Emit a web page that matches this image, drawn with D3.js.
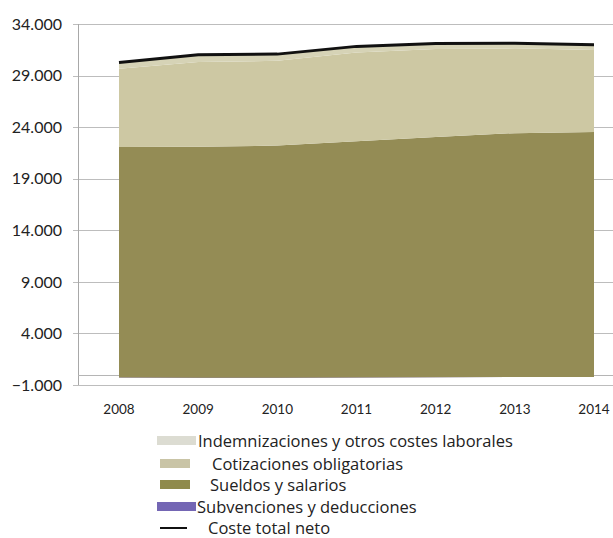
<!DOCTYPE html>
<html>
<head>
<meta charset="utf-8">
<script src="https://cdn.jsdelivr.net/npm/d3@7"></script>
<style>
  html, body { margin: 0; padding: 0; background: #fff; }
  svg { display: block; }
  text { font-family: Lato, "Open Sans", sans-serif; fill: #222; }
  .legend text { font-family: "Open Sans", Lato, sans-serif; }
</style>
</head>
<body>
<svg id="chart" width="613" height="538"></svg>
<script>
// Annual labour cost per worker (euros), 2008-2014
const years = ["2008", "2009", "2010", "2011", "2012", "2013", "2014"];
const subvenciones = [-280, -300, -290, -270, -250, -230, -230];
const sueldos = [22350, 22400, 22500, 22900, 23300, 23650, 23750];
const cotizaciones = [7590, 8210, 8220, 8600, 8520, 8220, 7960];
const indemnizaciones = [600, 700, 650, 600, 550, 500, 500];
const costeTotalNeto = [30260, 31010, 31080, 31830, 32120, 32140, 31980];
const yTicks = [-1000, 4000, 9000, 14000, 19000, 24000, 29000, 34000];

const seriesKeys = ["subvenciones", "sueldos", "cotizaciones", "indemnizaciones"];
const seriesColors = {
  subvenciones: "#7560b0",
  sueldos: "#948c55",
  cotizaciones: "#cdc8a3",
  indemnizaciones: "#d6d3b6"
};

const table = years.map((yr, i) => ({
  year: yr,
  subvenciones: subvenciones[i],
  sueldos: sueldos[i],
  cotizaciones: cotizaciones[i],
  indemnizaciones: indemnizaciones[i],
  total: costeTotalNeto[i]
}));

const svg = d3.select("#chart");

const x = d3.scalePoint().domain(years).range([119, 594]);
const y = d3.scaleLinear().domain([-1000, 34000]).range([385, 24]);

// thousands with a dot separator and three decimals of the thousand unit
const fmtTick = v => d3.format(".3f")(v / 1000);

// horizontal gridlines with short outer tick marks
svg.append("g")
  .selectAll("line")
  .data(yTicks)
  .join("line")
  .attr("x1", 73).attr("x2", 613)
  .attr("y1", d => Math.round(y(d)) + 0.5)
  .attr("y2", d => Math.round(y(d)) + 0.5)
  .attr("stroke", "#bdbdbd")
  .attr("stroke-width", 1);

// y tick labels
svg.append("g")
  .selectAll("text")
  .data(yTicks)
  .join("text")
  .attr("x", 62)
  .attr("y", d => y(d))
  .attr("dy", "0.36em")
  .attr("text-anchor", "end")
  .attr("font-size", 16)
  .text(d => fmtTick(d));

// vertical value axis
svg.append("line")
  .attr("x1", 78.5).attr("x2", 78.5)
  .attr("y1", y(34000)).attr("y2", y(-1000))
  .attr("stroke", "#a8a8a8");

// category axis crossing at zero (behind the areas)
svg.append("line")
  .attr("x1", 78).attr("x2", 613)
  .attr("y1", Math.round(y(0)) + 0.5).attr("y2", Math.round(y(0)) + 0.5)
  .attr("stroke", "#b5b5b5");

// stacked areas
const stack = d3.stack().keys(seriesKeys);
const stacked = stack(table);

const area = d3.area()
  .x(d => x(d.data.year))
  .y0(d => y(d[0]))
  .y1(d => y(d[1]));

svg.append("g")
  .selectAll("path")
  .data(stacked)
  .join("path")
  .attr("d", area)
  .attr("fill", d => seriesColors[d.key]);

// net total cost line
const line = d3.line()
  .x(d => x(d.year))
  .y(d => y(d.total));

svg.append("path")
  .datum(table)
  .attr("d", line)
  .attr("fill", "none")
  .attr("stroke", "#111")
  .attr("stroke-width", 3);

// year labels
svg.append("g")
  .selectAll("text")
  .data(years)
  .join("text")
  .attr("x", d => x(d))
  .attr("y", 409)
  .attr("dy", "0.36em")
  .attr("text-anchor", "middle")
  .attr("font-size", 13.5)
  .text(d => d);

// legend
const legendItems = [
  { label: "Indemnizaciones y otros costes laborales", kind: "rect", color: "#dcdcd2", x0: 157, x1: 196, tx: 198 },
  { label: "Cotizaciones obligatorias", kind: "rect", color: "#c9c4a6", x0: 160, x1: 190, tx: 212 },
  { label: "Sueldos y salarios", kind: "rect", color: "#8f8a4c", x0: 160, x1: 190, tx: 210 },
  { label: "Subvenciones y deducciones", kind: "rect", color: "#7466b4", x0: 157, x1: 196, tx: 197 },
  { label: "Coste total neto", kind: "line", color: "#111", x0: 160, x1: 187, tx: 208 }
];
const legendY = [441, 464, 485, 507, 528];

const lg = svg.append("g")
  .attr("class", "legend")
  .selectAll("g")
  .data(legendItems)
  .join("g")
  .attr("transform", (d, i) => `translate(0,${legendY[i]})`);

lg.filter(d => d.kind === "rect")
  .append("rect")
  .attr("x", d => d.x0)
  .attr("y", -5)
  .attr("width", d => d.x1 - d.x0)
  .attr("height", 9)
  .attr("fill", d => d.color);

lg.filter(d => d.kind === "line")
  .append("line")
  .attr("x1", d => d.x0).attr("x2", d => d.x1)
  .attr("y1", 0).attr("y2", 0)
  .attr("stroke", d => d.color)
  .attr("stroke-width", 2);

lg.append("text")
  .attr("x", d => d.tx)
  .attr("y", 0)
  .attr("dy", "0.34em")
  .attr("font-size", 16.5)
  .text(d => d.label);
</script>
</body>
</html>
